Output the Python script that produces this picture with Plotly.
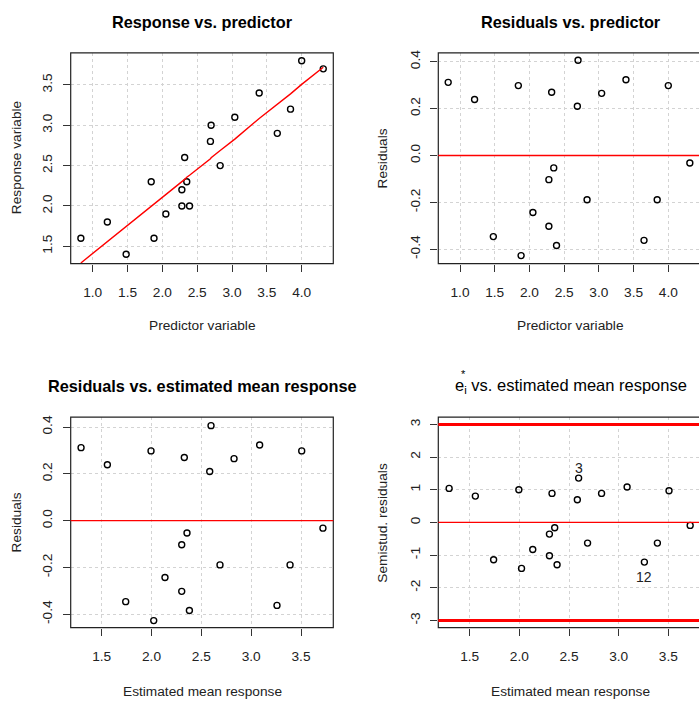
import plotly.graph_objects as go

# ---- data ----
predictor = [0.83, 1.21, 1.48, 1.84, 1.88, 2.05, 2.28, 2.28, 2.32, 2.35,
             2.39, 2.69, 2.70, 2.83, 3.04, 3.39, 3.65, 3.84, 4.00, 4.31]
response = [1.6, 1.8, 1.4, 2.3, 1.6, 1.9, 2.2, 2.0, 2.6, 2.3,
            2.0, 2.8, 3.0, 2.5, 3.1, 3.4, 2.9, 3.2, 3.8, 3.7]
fitted = [1.293, 1.557, 1.741, 1.995, 2.022, 2.135, 2.303, 2.303, 2.329, 2.356,
          2.380, 2.584, 2.597, 2.687, 2.828, 3.085, 3.259, 3.390, 3.507, 3.720]
residuals = [0.312, 0.239, -0.346, 0.298, -0.427, -0.243, -0.103, -0.302, 0.270, -0.053,
             -0.384, 0.210, 0.406, -0.189, 0.265, 0.323, -0.362, -0.189, 0.298, -0.032]
semistud = [1.041, 0.806, -1.143, 1.000, -1.408, -0.827, -0.357, -1.020, 0.888, -0.163,
            -1.296, 0.694, 1.357, -0.633, 0.888, 1.082, -1.214, -0.633, 0.969, -0.092]
outlier_labels = ["3", "12"]
outlier_rows = [12, 16]
outlier_shift = [10, -15]

x_ticks_pred = [1.0, 1.5, 2.0, 2.5, 3.0, 3.5, 4.0]
x_ticktext_pred = ["1.0", "1.5", "2.0", "2.5", "3.0", "3.5", "4.0"]
y_ticks_resp = [1.5, 2.0, 2.5, 3.0, 3.5]
y_ticktext_resp = ["1.5", "2.0", "2.5", "3.0", "3.5"]
y_ticks_res = [-0.4, -0.2, 0.0, 0.2, 0.4]
y_ticktext_res = ["-0.4", "-0.2", "0.0", "0.2", "0.4"]
x_ticks_fit = [1.5, 2.0, 2.5, 3.0, 3.5]
x_ticktext_fit = ["1.5", "2.0", "2.5", "3.0", "3.5"]
y_ticks_semi = [-3, -2, -1, 0, 1, 2, 3]
y_ticktext_semi = ["-3", "-2", "-1", "0", "1", "2", "3"]

titles = ["Response vs. predictor", "Residuals vs. predictor",
          "Residuals vs. estimated mean response",
          "e<sub>i</sub> vs. estimated mean response"]
x_titles = ["Predictor variable", "Predictor variable",
            "Estimated mean response", "Estimated mean response"]
y_titles = ["Response variable", "Residuals", "Residuals", "Semistud. residuals"]

W, H = 699, 701
FONT = "Liberation Sans, Arial, sans-serif"


def px(v):
    return v / W


def py(v):
    return 1 - v / H


# panel boxes in pixels: (left, top, right, bottom)
boxes = [(70.7, 50.0, 333.3, 261.7), (438.3, 50.0, 703.0, 261.7),
         (70.7, 416.0, 333.3, 627.3), (438.3, 416.0, 703.0, 627.3)]

marker = dict(symbol="circle-open", size=6, color="black", line=dict(width=1.4, color="black"))

fig = go.Figure()
fig.add_trace(go.Scatter(x=predictor, y=response, mode="markers", marker=marker,
                         xaxis="x", yaxis="y", showlegend=False))
fig.add_trace(go.Scatter(x=predictor, y=fitted, mode="lines", line=dict(color="red", width=1.4),
                         xaxis="x", yaxis="y", showlegend=False))
fig.add_trace(go.Scatter(x=predictor, y=residuals, mode="markers", marker=marker,
                         xaxis="x2", yaxis="y2", showlegend=False))
fig.add_trace(go.Scatter(x=fitted, y=residuals, mode="markers", marker=marker,
                         xaxis="x3", yaxis="y3", showlegend=False))
fig.add_trace(go.Scatter(x=fitted, y=semistud, mode="markers", marker=marker,
                         xaxis="x4", yaxis="y4", showlegend=False))

axis_common = dict(showline=False, zeroline=False, showgrid=True, gridcolor="#d3d3d3",
                   griddash="dot", gridwidth=1, ticks="outside", ticklen=7, tickwidth=1,
                   tickcolor="#333", tickmode="array",
                   tickfont=dict(family=FONT, size=13.7, color="#222"), fixedrange=True)

ranges_x = [[0.684, 4.454], [0.6875, 4.442], [1.189, 3.824], [1.184, 3.809]]
ranges_y = [[1.285, 3.899], [-0.461, 0.438], [-0.457, 0.442], [-3.22, 3.22]]
xt = [(x_ticks_pred, x_ticktext_pred), (x_ticks_pred, x_ticktext_pred),
      (x_ticks_fit, x_ticktext_fit), (x_ticks_fit, x_ticktext_fit)]
yt = [(y_ticks_resp, y_ticktext_resp), (y_ticks_res, y_ticktext_res),
      (y_ticks_res, y_ticktext_res), (y_ticks_semi, y_ticktext_semi)]

layout = dict(width=W, height=H, margin=dict(l=0, r=0, t=0, b=0),
              paper_bgcolor="white", plot_bgcolor="white", showlegend=False)
shapes = []
annotations = []
for i in range(4):
    l, t, r, b = boxes[i]
    sfx = "" if i == 0 else str(i + 1)
    layout["xaxis" + sfx] = dict(axis_common, domain=[px(l), min(1.0, px(r))],
                                 range=ranges_x[i], anchor="y" + sfx,
                                 tickvals=xt[i][0], ticktext=xt[i][1], ticklabelstandoff=9)
    layout["yaxis" + sfx] = dict(axis_common, domain=[py(b), py(t)],
                                 range=ranges_y[i], anchor="x" + sfx,
                                 tickvals=yt[i][0], ticktext=yt[i][1], tickangle=-90,
                                 ticklabelstandoff=5)
    shapes.append(dict(type="rect", xref="paper", yref="paper", x0=px(l), x1=px(r),
                       y0=py(b), y1=py(t), line=dict(color="#222", width=1.2), layer="above"))
    cx = (l + r) / 2
    cy = (t + b) / 2
    if i < 3:
        annotations.append(dict(text="<b>" + titles[i] + "</b>", x=px(202 if i != 1 else 570.5),
                                y=py(19 if i < 2 else 384.5), xref="paper", yref="paper",
                                xanchor="center", yanchor="middle", showarrow=False,
                                font=dict(family=FONT, size=16.3, color="black")))
    else:
        annotations.append(dict(text=titles[i], x=px(570.5), y=py(385), xref="paper", yref="paper",
                                xanchor="center", yanchor="middle", showarrow=False,
                                font=dict(family=FONT, size=16.5, color="black")))
        annotations.append(dict(text="*", x=px(463.3), y=py(373), xref="paper", yref="paper",
                                xanchor="center", yanchor="middle", showarrow=False,
                                font=dict(family=FONT, size=11, color="black")))
    annotations.append(dict(text=x_titles[i], x=px(cx if i % 2 == 0 else 570.5),
                            y=py(324 if i < 2 else 691.5), xref="paper", yref="paper",
                            xanchor="center", yanchor="middle", showarrow=False,
                            font=dict(family=FONT, size=13.7, color="#222")))
    annotations.append(dict(text=y_titles[i], x=px(16 if i % 2 == 0 else 382.3), y=py(cy),
                            xref="paper", yref="paper", textangle=-90,
                            xanchor="center", yanchor="middle", showarrow=False,
                            font=dict(family=FONT, size=13.7, color="#222")))

# labels of the two flagged observations
for lab, row, shift in zip(outlier_labels, outlier_rows, outlier_shift):
    annotations.append(dict(text=lab, x=fitted[row], y=semistud[row], xref="x4", yref="y4",
                            yshift=shift, xanchor="center", yanchor="middle", showarrow=False,
                            font=dict(family=FONT, size=14, color="#222")))

# reference lines
for ax in ["2", "3", "4"]:
    shapes.append(dict(type="line", xref="x" + ax + " domain", yref="y" + ax,
                       x0=0, x1=1, y0=0, y1=0, line=dict(color="red", width=1.4), layer="above"))
for yv in [3, -3]:
    shapes.append(dict(type="line", xref="x4 domain", yref="y4",
                       x0=0, x1=1, y0=yv, y1=yv, line=dict(color="red", width=3), layer="above"))

layout["shapes"] = shapes
layout["annotations"] = annotations
fig.update_layout(**layout)
fig.write_html("out.html", config={"displayModeBar": False},
               post_script="document.body.style.margin='0px';")
